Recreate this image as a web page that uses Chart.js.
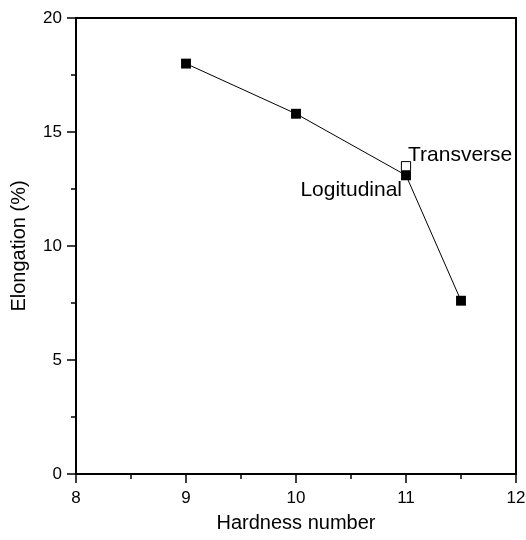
<!DOCTYPE html>
<html>
<head>
<meta charset="utf-8">
<script src="https://cdn.jsdelivr.net/npm/chart.js@4/dist/chart.umd.min.js"></script>
<style>
  html, body { margin: 0; padding: 0; background: #fff; }
  #wrap { width: 526px; height: 540px; }
</style>
</head>
<body>
<div id="wrap"><canvas id="c" width="526" height="540"></canvas></div>
<script>
// Hardness vs. elongation, longitudinal series plus one transverse sample
const hardness = [9, 10, 11, 11.5];
const elongation = [18, 15.8, 13.1, 7.6];
const transverseHardness = [11];
const transverseElongation = [13.5];
const xTickValues = [8, 9, 10, 11, 12];
const yTickValues = [0, 5, 10, 15, 20];

const FONT = '"Liberation Sans", Arial, sans-serif';

// Box frame plus outward major/minor tick marks
const framePlugin = {
  id: 'frame',
  afterDraw(chart) {
    const { ctx, chartArea: a, scales } = chart;
    ctx.save();
    ctx.strokeStyle = '#000';
    ctx.lineWidth = 2;
    ctx.strokeRect(a.left, a.top, a.right - a.left, a.bottom - a.top);
    ctx.lineWidth = 1.5;
    ctx.beginPath();
    for (let v = 0; v <= 20; v += 2.5) {
      const y = Math.round(scales.y.getPixelForValue(v));
      const len = (v % 5 === 0) ? 9 : 5;
      ctx.moveTo(a.left, y);
      ctx.lineTo(a.left - len, y);
    }
    for (let v = 8; v <= 12; v += 0.5) {
      const x = Math.round(scales.x.getPixelForValue(v));
      const len = (v % 1 === 0) ? 9 : 5;
      ctx.moveTo(x, a.bottom);
      ctx.lineTo(x, a.bottom + len);
    }
    ctx.stroke();
    ctx.restore();
  }
};

// Text labels next to the points at hardness 11
const labelPlugin = {
  id: 'pointLabels',
  afterDatasetsDraw(chart) {
    const { ctx, scales } = chart;
    ctx.save();
    ctx.fillStyle = '#000';
    ctx.font = '21px ' + FONT;
    ctx.textBaseline = 'middle';
    const tx = scales.x.getPixelForValue(transverseHardness[0]);
    const ty = scales.y.getPixelForValue(transverseElongation[0]);
    ctx.textAlign = 'left';
    ctx.fillText('Transverse', tx + 2, ty - 11);
    const lx = scales.x.getPixelForValue(hardness[2]);
    const ly = scales.y.getPixelForValue(elongation[2]);
    ctx.textAlign = 'right';
    ctx.fillText('Logitudinal', lx - 4, ly + 15);
    ctx.restore();
  }
};

// Tick marks themselves are drawn by framePlugin; these only space the labels
const xGrid = {
  display: true,
  drawOnChartArea: false,
  drawTicks: true,
  tickLength: 16,
  tickColor: 'rgba(0,0,0,0)'
};
const yGrid = {
  display: true,
  drawOnChartArea: false,
  drawTicks: true,
  tickLength: 9,
  tickColor: 'rgba(0,0,0,0)'
};

new Chart(document.getElementById('c'), {
  type: 'line',
  data: {
    datasets: [
      {
        label: 'Logitudinal',
        data: hardness.map((h, i) => ({ x: h, y: elongation[i] })),
        borderColor: '#000',
        borderWidth: 1,
        backgroundColor: '#000',
        pointStyle: 'rect',
        pointRadius: 7,
        pointBorderWidth: 0,
        pointBackgroundColor: '#000',
        tension: 0,
        order: 2
      },
      {
        label: 'Transverse',
        data: transverseHardness.map((h, i) => ({ x: h, y: transverseElongation[i] })),
        showLine: false,
        pointStyle: 'rect',
        pointRadius: 6.5,
        pointBorderWidth: 1,
        pointBorderColor: '#000',
        pointBackgroundColor: '#fff',
        order: 1
      }
    ]
  },
  options: {
    responsive: false,
    animation: false,
    events: [],
    layout: { autoPadding: false, padding: { top: 18, right: 10, left: 0, bottom: 0 } },
    plugins: { legend: { display: false }, tooltip: { enabled: false } },
    scales: {
      x: {
        type: 'linear',
        min: 8, max: 12,
        afterBuildTicks: s => { s.ticks = xTickValues.map(v => ({ value: v })); },
        afterFit: s => { s.height = 66; },
        grid: xGrid,
        border: { display: false },
        ticks: { color: '#000', font: { family: FONT, size: 17 }, padding: -2 },
        title: {
          display: true, text: 'Hardness number', color: '#000',
          font: { family: FONT, size: 20 }, padding: { top: 0, bottom: 5 }
        }
      },
      y: {
        type: 'linear',
        min: 0, max: 20,
        afterBuildTicks: s => { s.ticks = yTickValues.map(v => ({ value: v })); },
        afterFit: s => { s.width = 76; },
        grid: yGrid,
        border: { display: false },
        ticks: { color: '#000', font: { family: FONT, size: 17 }, padding: 5 },
        title: {
          display: true, text: 'Elongation (%)', color: '#000',
          font: { family: FONT, size: 20 }, padding: { top: 7, bottom: 0 }
        }
      }
    }
  },
  plugins: [framePlugin, labelPlugin]
});
</script>
</body>
</html>
